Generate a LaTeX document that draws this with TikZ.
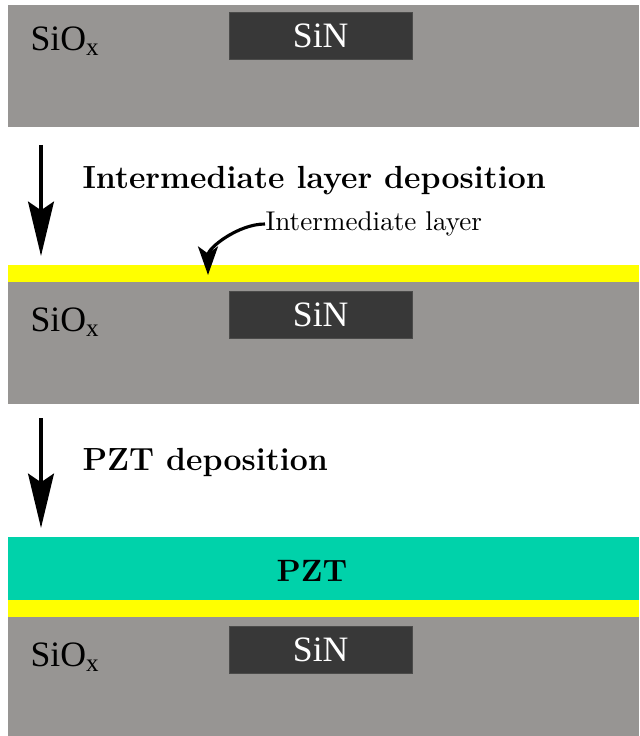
\documentclass[tikz,border=0pt]{standalone}
\usepackage{fontspec}
\newfontfamily\timesfont{Liberation Serif}
\usetikzlibrary{positioning,arrows.meta}

\definecolor{oxide}{RGB}{151,149,147}
\definecolor{nitride}{RGB}{56,56,56}
\definecolor{interlayer}{RGB}{255,255,0}
\definecolor{pztgreen}{RGB}{0,210,170}

% one unit = one pixel of the 639x736 sketch
\tikzset{
  layer/.style={rectangle, inner sep=0pt, outer sep=0pt, minimum width=220.85pt, anchor=north west},
  sio/.style={layer, fill=oxide, minimum height=42.7pt},
  inter/.style={layer, fill=interlayer, minimum height=5.95pt},
  pzt/.style={layer, fill=pztgreen, minimum height=22pt},
  sin/.style={rectangle, inner sep=0pt, fill=nitride, draw=nitride!80!oxide, line width=0.2pt,
    minimum width=64pt, minimum height=16.5pt, text=white, font=\timesfont\fontsize{12.5}{14}\selectfont},
  oxlabel/.style={anchor=west, inner sep=0pt, font=\timesfont\fontsize{12.5}{14}\selectfont},
  steplabel/.style={anchor=west, inner sep=0pt, font=\bfseries\fontsize{11.2}{13.5}\selectfont},
  bigarrow/.style={line width=1.4pt, -{Stealth[length=19pt, width=9pt, inset=3pt]}},
  thinarrow/.style={line width=1.1pt, -{Stealth[length=10pt, width=7pt, inset=2.5pt]}}
}

\begin{document}
\begin{tikzpicture}[x=0.35pt, y=-0.35pt]
\useasboundingbox (0,0) rectangle (639,736);

% as received: oxide with buried nitride
\node[sio] (sio1) at (8,5) {};
\node[sin, below right = 2.45pt and 77.35pt of sio1.north west, anchor=north west] (sin1) {SiN};
\node[oxlabel, below right = 12.6pt and 7.7pt of sio1.north west, anchor=west] (ox1) {SiO\textsubscript{x}};

% step 1
\coordinate (a1s) at (41,145);
\coordinate (a1e) at (41,256);
\draw[bigarrow] (a1s) -- (a1e);
\node[steplabel] (dep1) at (82,181) {Intermediate layer deposition};

\node[inter] (il1) at (8,265) {};
\node[sio, below = 0pt of il1.south west, anchor=north west] (sio2) {};
\node[sin, below right = 3.15pt and 77.35pt of sio2.north west, anchor=north west] (sin2) {SiN};
\node[oxlabel, below right = 14pt and 7.7pt of sio2.north west, anchor=west] (ox2) {SiO\textsubscript{x}};

\node[anchor=west, inner sep=0pt, font=\fontsize{9.5}{11}\selectfont] (illabel) at (265,224) {Intermediate layer};
\coordinate (iltip) at (208,275);
\draw[thinarrow] (illabel.west) to[out=180, in=90, looseness=0.9] (iltip);

% step 2
\coordinate (a2s) at (41,418);
\coordinate (a2e) at (41,528);
\draw[bigarrow] (a2s) -- (a2e);
\node[steplabel] (dep2) at (82,462) {PZT deposition};

\node[pzt] (pzt3) at (8,537) {};
\node[font=\bfseries\fontsize{10.8}{13}\selectfont] (pztlabel) at (312,571) {PZT};
\node[inter, below = 0pt of pzt3.south west, anchor=north west] (il3) {};
\node[sio, below = 0pt of il3.south west, anchor=north west, minimum height=41.65pt] (sio3) {};
\node[sin, below right = 3.15pt and 77.35pt of sio3.north west, anchor=north west] (sin3) {SiN};
\node[oxlabel, below right = 14pt and 7.7pt of sio3.north west, anchor=west] (ox3) {SiO\textsubscript{x}};
\end{tikzpicture}
\end{document}
